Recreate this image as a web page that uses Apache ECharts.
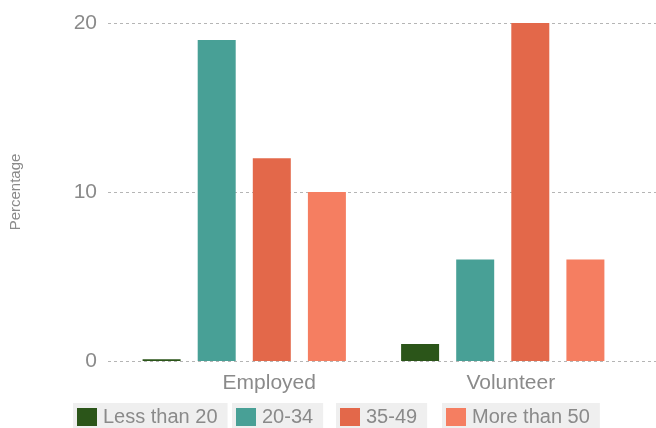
<!DOCTYPE html>
<html>
<head>
<meta charset="utf-8">
<script src="https://cdn.jsdelivr.net/npm/echarts@6/dist/echarts.min.js"></script>
<style>html,body{margin:0;padding:0;background:#fff;}#c{width:656px;height:428px;}</style>
</head>
<body>
<div id="c"></div>
<script>
var categories = ['Employed', 'Volunteer'];
var seriesNames = ['Less than 20', '20-34', '35-49', 'More than 50'];
var lessThan20 = [0.1, 1];
var age20to34 = [19, 6];
var age35to49 = [12, 20];
var moreThan50 = [10, 6];
var yTicks = [0, 10, 20];

var colors = ['#2b5519', '#48a096', '#e3684a', '#f57e61'];
var values = [lessThan20, age20to34, age35to49, moreThan50];
var font = 'Liberation Sans, Arial, sans-serif';
var legendLefts = [73, 232, 336, 442];
var labelShift = { Employed: 50, Volunteer: 16 };

var chart = echarts.init(document.getElementById('c'));
var series = seriesNames.map(function (n, i) {
  return {
    name: n, type: 'bar', data: values[i], xAxisIndex: 0, yAxisIndex: 0,
    barWidth: 38, barGap: '45%',
    itemStyle: { color: colors[i] }
  };
});
var legends = seriesNames.map(function (n, i) {
  return {
    data: [n], left: legendLefts[i], top: 403, orient: 'horizontal',
    backgroundColor: '#efefef', padding: [4, 10, 6, 4],
    itemWidth: 20, itemHeight: 18, itemGap: 0,
    icon: 'rect', selectedMode: false,
    textStyle: { color: '#8a8a8a', fontSize: 20, fontFamily: font, padding: [0, 0, 0, 1] }
  };
});
var rich = {};
categories.forEach(function (c, i) {
  rich['c' + i] = { color: '#8a8a8a', fontSize: 21, fontFamily: font, padding: [0, 0, 0, labelShift[c]] };
});
chart.setOption({
  animation: false,
  color: colors,
  grid: [
    { left: 115, right: 24, top: 23, bottom: 67 },
    { left: 108, right: 0, top: 23, bottom: 67 }
  ],
  legend: legends,
  xAxis: [
    {
      type: 'category', data: categories, gridIndex: 0,
      axisLine: { show: false }, axisTick: { show: false },
      axisLabel: { color: '#8a8a8a', fontSize: 21, fontFamily: font, margin: 12, rich: rich,
        formatter: function (v) { return '{c' + categories.indexOf(v) + '|' + v + '}'; } }
    },
    { type: 'value', gridIndex: 1, show: false }
  ],
  yAxis: [
    { type: 'value', gridIndex: 0, min: 0, max: 20, interval: 10, show: false },
    {
      type: 'value', gridIndex: 1, min: 0, max: 20, interval: 10,
      name: 'Percentage', nameLocation: 'middle', nameGap: 85, nameRotate: 90,
      nameTextStyle: { color: '#8a8a8a', fontSize: 15, fontFamily: font },
      axisLine: { show: false }, axisTick: { show: false },
      axisLabel: { color: '#8a8a8a', fontSize: 21, fontFamily: font, margin: 11,
        formatter: function (v) { return yTicks.indexOf(v) >= 0 ? String(v) : ''; } },
      splitLine: { show: true, lineStyle: { color: '#b5b5b5', type: [3, 3], width: 1 } }
    }
  ],
  series: series
});
</script>
</body>
</html>
